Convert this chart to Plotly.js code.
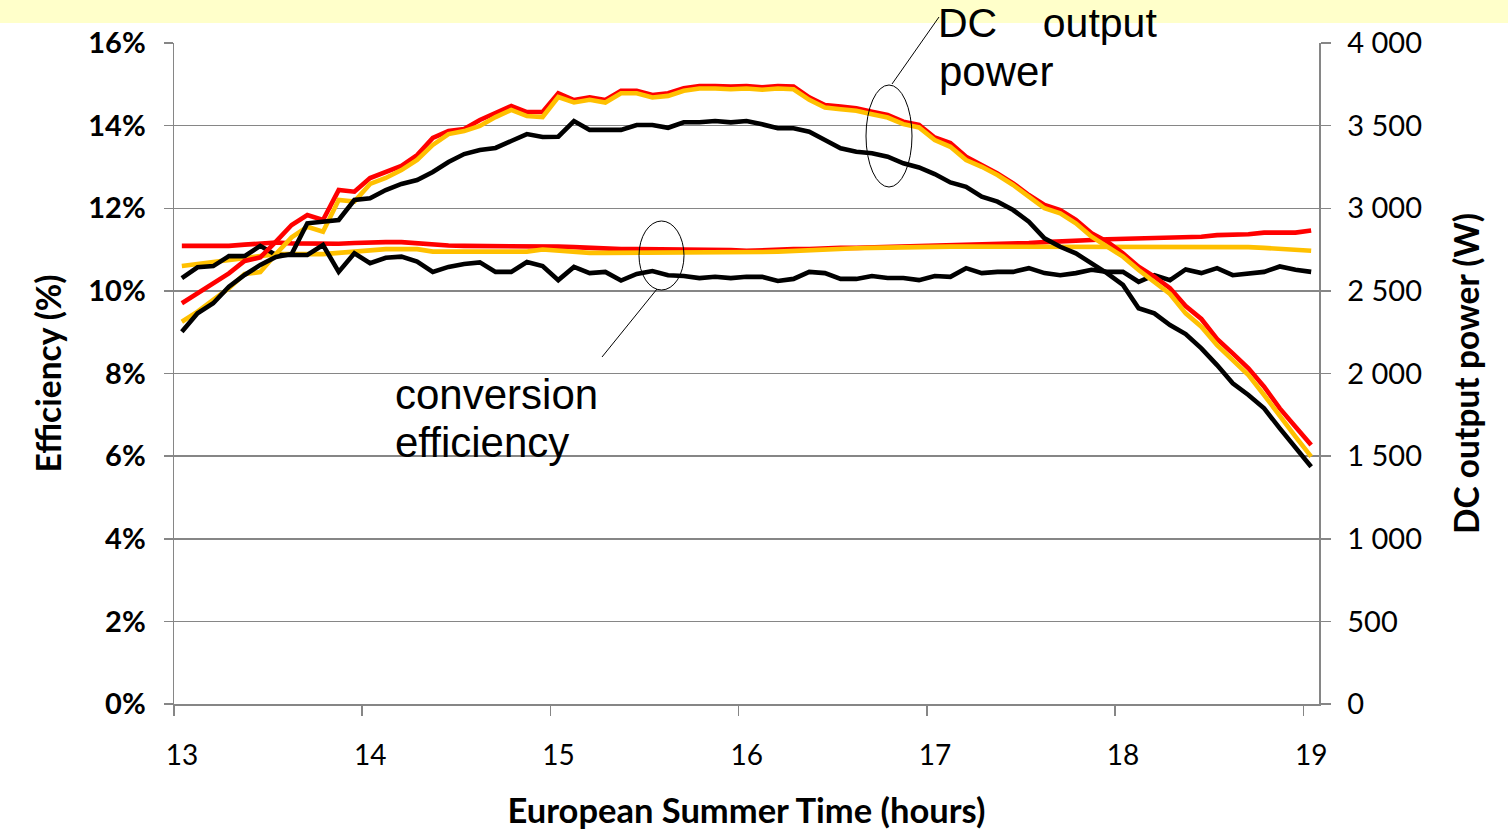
<!DOCTYPE html>
<html>
<head>
<meta charset="utf-8">
<script src="https://cdn.plot.ly/plotly-3.0.1.min.js"></script>
<style>
  html, body { margin: 0; padding: 0; background: #ffffff; }
  #chart { width: 1508px; height: 836px; }
</style>
</head>
<body>
<div id="chart"></div>
<script>
// ---- DATA ----
const times = [
  "13:00","13:05","13:10","13:15","13:20","13:25","13:30","13:35","13:40","13:45","13:50","13:55",
  "14:00","14:05","14:10","14:15","14:20","14:25","14:30","14:35","14:40","14:45","14:50","14:55",
  "15:00","15:05","15:10","15:15","15:20","15:25","15:30","15:35","15:40","15:45","15:50","15:55",
  "16:00","16:05","16:10","16:15","16:20","16:25","16:30","16:35","16:40","16:45","16:50","16:55",
  "17:00","17:05","17:10","17:15","17:20","17:25","17:30","17:35","17:40","17:45","17:50","17:55",
  "18:00","18:05","18:10","18:15","18:20","18:25","18:30","18:35","18:40","18:45","18:50","18:55",
  "19:00"
];
const hourLabels = ["13", "14", "15", "16", "17", "18", "19"];

// DC output power (W) - right axis
const powerRed = [2425, 2485, 2546, 2606, 2681, 2703, 2798, 2899, 2959, 2929,
  3110, 3100, 3183, 3219, 3256, 3322, 3425, 3467, 3480, 3534,
  3576, 3619, 3582, 3582, 3696, 3655, 3671, 3655, 3711, 3711,
  3685, 3696, 3726, 3740, 3740, 3736, 3740, 3732, 3740, 3736,
  3671, 3625, 3615, 3605, 3584, 3564, 3524, 3504, 3428, 3395,
  3312, 3262, 3211, 3151, 3080, 3020, 2989, 2929, 2848, 2798,
  2727, 2646, 2586, 2516, 2408, 2330, 2209, 2122, 2031, 1920,
  1789, 1678, 1567];
const powerOrange = [2313, 2374, 2445, 2516, 2602, 2614, 2723, 2824, 2888, 2858,
  3050, 3040, 3147, 3183, 3231, 3292, 3383, 3449, 3467, 3498,
  3552, 3595, 3558, 3552, 3673, 3640, 3656, 3640, 3696, 3696,
  3670, 3680, 3711, 3725, 3725, 3720, 3725, 3717, 3725, 3720,
  3656, 3610, 3599, 3590, 3569, 3549, 3509, 3489, 3413, 3372,
  3292, 3251, 3201, 3141, 3070, 3000, 2969, 2909, 2828, 2767,
  2707, 2626, 2556, 2481, 2364, 2283, 2172, 2082, 1991, 1870,
  1739, 1618, 1497];
const powerBlack = [2253, 2364, 2425, 2525, 2596, 2657, 2705, 2723, 2909, 2919,
  2929, 3050, 3060, 3110, 3147, 3171, 3219, 3280, 3328, 3352,
  3365, 3407, 3449, 3431, 3433, 3528, 3474, 3474, 3474, 3504,
  3504, 3487, 3520, 3520, 3528, 3520, 3528, 3508, 3484, 3484,
  3463, 3413, 3363, 3342, 3333, 3312, 3272, 3247, 3207, 3156,
  3130, 3070, 3040, 2989, 2919, 2818, 2767, 2727, 2667, 2606,
  2536, 2395, 2364, 2293, 2239, 2152, 2051, 1941, 1870, 1789,
  1668, 1547, 1436];

// Conversion efficiency (%) - left axis
const effRed = [11.09, 11.09, 11.09, 11.09, 11.12, 11.15, 11.17, 11.15, 11.14, 11.14,
  11.14, 11.16, 11.18, 11.18, 11.18, 11.15, 11.11, 11.10, 11.09, 11.09,
  11.09, 11.09, 11.09, 11.09, 11.07, 11.06, 11.04, 11.01, 11.01, 11.01,
  11.01, 11.01, 11.01, 11.01, 11.00, 10.99, 10.97, 10.99, 11.00, 11.01,
  11.01, 11.03, 11.04, 11.04, 11.05, 11.06, 11.07, 11.07, 11.08, 11.09,
  11.11, 11.12, 11.13, 11.15, 11.16, 11.18, 11.19, 11.21, 11.23, 11.25,
  11.26, 11.27, 11.30, 11.30, 11.30, 11.31, 11.35, 11.36, 11.37, 11.41,
  11.41, 11.41, 11.46];
const effOrange = [10.60, 10.65, 10.71, 10.75, 10.79, 10.84, 10.89, 10.89, 10.89, 10.89,
  10.92, 10.95, 10.98, 11.01, 11.01, 11.01, 10.95, 10.95, 10.95, 10.95,
  10.95, 10.95, 10.95, 11.00, 10.97, 10.95, 10.92, 10.92, 10.92, 10.92,
  10.92, 10.92, 10.92, 10.92, 10.92, 10.92, 10.93, 10.94, 10.95, 10.97,
  10.99, 11.01, 11.02, 11.03, 11.04, 11.05, 11.06, 11.07, 11.07, 11.07,
  11.07, 11.07, 11.07, 11.07, 11.07, 11.07, 11.07, 11.07, 11.07, 11.07,
  11.07, 11.07, 11.07, 11.07, 11.07, 11.07, 11.07, 11.07, 11.06, 11.04,
  11.01, 10.99, 10.97];
const effBlack = [10.31, 10.57, 10.60, 10.84, 10.84, 11.09, 10.87, 10.87, 10.87, 11.11,
  10.46, 10.91, 10.67, 10.80, 10.83, 10.71, 10.46, 10.58, 10.65, 10.69,
  10.46, 10.46, 10.70, 10.60, 10.26, 10.58, 10.43, 10.46, 10.25, 10.41,
  10.48, 10.38, 10.36, 10.31, 10.34, 10.31, 10.34, 10.34, 10.24, 10.29,
  10.46, 10.43, 10.29, 10.29, 10.36, 10.31, 10.31, 10.26, 10.36, 10.34,
  10.55, 10.43, 10.46, 10.46, 10.55, 10.43, 10.38, 10.43, 10.51, 10.46,
  10.46, 10.22, 10.38, 10.26, 10.52, 10.43, 10.55, 10.38, 10.43, 10.46,
  10.59, 10.51, 10.46];

// ---- BUILD ----
const toHours = t => { const p = t.split(":"); return Number(p[0]) + Number(p[1]) / 60; };
const x = times.map(toHours);
const stepH = x[1] - x[0];
const hourVals = hourLabels.map(Number);

// plot-area geometry (pixels) for annotation placement
const W = 1508, H = 836;
const L = 174, R = 1319, T = 43, B = 704;
const px = v => (v - L) / (R - L);
const py = v => (B - v) / (B - T);

const FONT_AX = "Lato, 'Open Sans', sans-serif";
const FONT_TXT = "'Liberation Sans', Arial, sans-serif";
const LW = 4.6;

const mk = (y, color, axis, name) => ({
  type: "scatter", mode: "lines", x: x, y: y, name: name,
  yaxis: axis, line: { color: color, width: LW, shape: "linear" },
  hoverinfo: "skip", showlegend: false
});

const data = [
  mk(effRed, "#ff0000", "y", "efficiency red"),
  mk(effOrange, "#ffc000", "y", "efficiency orange"),
  mk(effBlack, "#000000", "y", "efficiency black"),
  mk(powerRed, "#ff0000", "y2", "power red"),
  mk(powerOrange, "#ffc000", "y2", "power orange"),
  mk(powerBlack, "#000000", "y2", "power black")
];

const txt = (s, xpx, ypx, size) => ({
  text: s, xref: "paper", yref: "paper", x: px(xpx), y: py(ypx),
  xanchor: "left", yanchor: "middle", showarrow: false, borderpad: 0,
  font: { family: FONT_TXT, size: size, color: "#000000" }
});

const layout = {
  width: W, height: H,
  margin: { l: L, r: W - R, t: T, b: H - B, pad: 0 },
  paper_bgcolor: "#ffffff", plot_bgcolor: "#ffffff",
  separators: ". ",
  showlegend: false,
  xaxis: {
    range: [x[0] - stepH / 2, x[x.length - 1] + stepH / 2],
    tickvals: hourVals.map(h => h - stepH / 2),
    ticktext: hourLabels,
    ticklabelshift: 8, ticklabelstandoff: 16,
    ticks: "outside", ticklen: 10, tickwidth: 1.5, tickcolor: "#868686",
    showline: true, linecolor: "#868686", linewidth: 1.5,
    showgrid: false, zeroline: false,
    tickfont: { family: FONT_AX, size: 28, color: "#000000" },
    title: { text: "European Summer Time (hours)", standoff: 29,
      font: { family: FONT_AX, size: 34.5, color: "#000000", weight: "bold" } }
  },
  yaxis: {
    range: [0, 16], dtick: 2, tick0: 0, ticksuffix: "%",
    ticklabelstandoff: 12,
    ticks: "outside", ticklen: 9, tickwidth: 1.5, tickcolor: "#868686",
    showline: true, linecolor: "#868686", linewidth: 1.5,
    showgrid: true, gridcolor: "#868686", gridwidth: 1.5, zeroline: false,
    tickfont: { family: FONT_AX, size: 29, color: "#000000", weight: "bold" },
    title: { text: "Efficiency (%)", standoff: 16,
      font: { family: FONT_AX, size: 33.5, color: "#000000", weight: "bold" } }
  },
  yaxis2: {
    overlaying: "y", side: "right",
    range: [0, 4000], dtick: 500, tick0: 0, separatethousands: true,
    ticklabelstandoff: 11,
    ticks: "outside", ticklen: 10, tickwidth: 1.5, tickcolor: "#868686",
    showline: true, linecolor: "#868686", linewidth: 1.5,
    showgrid: false, zeroline: false,
    tickfont: { family: FONT_AX, size: 29, color: "#000000" },
    title: { text: "DC output power (W)", standoff: 34,
      font: { family: FONT_AX, size: 33.5, color: "#000000", weight: "bold" } }
  },
  shapes: [
    { type: "rect", xref: "paper", yref: "paper", layer: "below",
      x0: px(0), x1: px(W), y0: py(23), y1: py(0),
      fillcolor: "#ffffca", line: { width: 0 } },
    { type: "circle", xref: "paper", yref: "paper",
      x0: px(866), x1: px(912), y0: py(187), y1: py(85),
      line: { color: "#000000", width: 1 } },
    { type: "circle", xref: "paper", yref: "paper",
      x0: px(639), x1: px(684), y0: py(290), y1: py(221),
      line: { color: "#000000", width: 1 } },
    { type: "line", xref: "paper", yref: "paper",
      x0: px(892), y0: py(84), x1: px(939), y1: py(17),
      line: { color: "#000000", width: 1 } },
    { type: "line", xref: "paper", yref: "paper",
      x0: px(657), y0: py(289), x1: px(602), y1: py(357),
      line: { color: "#000000", width: 1 } }
  ],
  annotations: [
    txt("DC\u00a0\u00a0\u00a0\u00a0output", 937, 23.5, 41),
    txt("power", 938, 71.5, 42),
    txt("conversion", 394, 394.5, 42),
    txt("efficiency", 394, 442.5, 42)
  ]
};

Plotly.newPlot("chart", data, layout, { staticPlot: true, displayModeBar: false });
</script>
</body>
</html>
